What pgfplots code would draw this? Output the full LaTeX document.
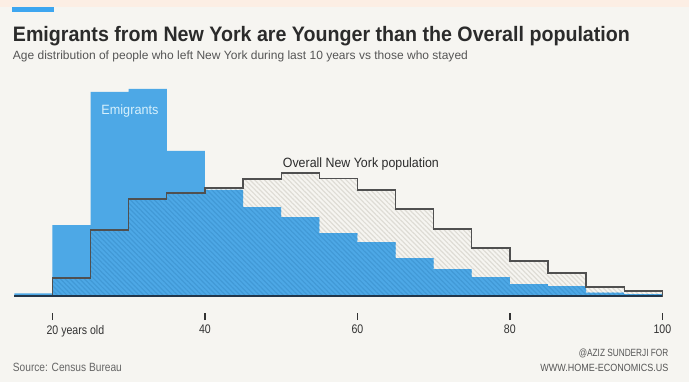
\documentclass[border=0pt]{standalone}
\usepackage{pgfplots}
\pgfplotsset{compat=1.18}
\usepackage{pgfplotstable}
\usepackage{graphicx}
\usepackage{fontspec}
\setmainfont{Liberation Sans}[FakeStretch=0.85]
\usetikzlibrary{patterns.meta}
\definecolor{bg}{HTML}{F6F5F1}
\definecolor{peach}{HTML}{FCEEE4}
\definecolor{accent}{HTML}{3EA6F0}
\definecolor{emblue}{HTML}{4DA8E6}
\definecolor{hatchbg}{HTML}{DEDCD5}
\definecolor{hatchblue}{HTML}{4199D6}
\definecolor{titlec}{HTML}{2B2B2B}
\definecolor{subc}{HTML}{555555}
\definecolor{srcc}{HTML}{666666}
\definecolor{linec}{HTML}{505050}
\definecolor{basec}{HTML}{22364A}
\definecolor{tickc}{HTML}{333333}
\definecolor{emtext}{HTML}{D6F0FC}

% x = left edge of 5-year bin, e = emigrants, o = overall population, m = overlap of both
\pgfplotstableread{
x e o m
15 2.7 0.8 0.8
20 71 18 18
25 204 66 66
30 207 97 97
35 145 103 103
40 106 108 106
45 89 117 89
50 79 123 79
55 63 117.5 63
60 54 106 54
65 38 87 38
70 27 67 27
75 19 48 19
80 12 35 12
85 10 23 10
90 3.5 9 3.5
95 2 5 2
100 2 5 2
}\histdata

\begin{document}
\begin{tikzpicture}[x=1bp,y=1bp]
\fill[bg] (0,0) rectangle (689,382);
\fill[peach] (0,375) rectangle (689,382);
\fill[accent] (12,370) rectangle (54,374.5);
\node[anchor=base west, inner sep=0, text=titlec] at (12.7,340.3)
  {\resizebox{617bp}{\height}{\fontsize{21}{24}\selectfont\bfseries Emigrants from New York are Younger than the Overall population}};
\node[anchor=base west, inner sep=0, text=subc] at (12.7,322.7)
  {\resizebox{455bp}{\height}{\fontsize{12}{14}\selectfont Age distribution of people who left New York during last 10 years vs those who stayed}};
\node[anchor=base west, inner sep=0, text=srcc] at (12.7,10.3)
  {\resizebox{109bp}{\height}{\fontsize{12}{14}\selectfont Source: Census Bureau}};
\node[anchor=base east, inner sep=0, text=subc] at (668.5,25.3)
  {\resizebox{89.5bp}{\height}{\fontsize{10.5}{12}\selectfont @AZIZ SUNDERJI FOR}};
\node[anchor=base east, inner sep=0, text=subc] at (668.5,10.3)
  {\resizebox{128bp}{\height}{\fontsize{10.5}{12}\selectfont WWW.HOME-ECONOMICS.US}};

\begin{axis}[
  at={(18.8,69)}, anchor=south west,
  scale only axis, width=648bp, height=237bp,
  xmin=15, xmax=100, ymin=-17, ymax=220,
  axis line style={draw=none},
  ytick=\empty,
  xtick={20,40,60,80,100},
  xticklabels={20\rlap{ years old},40,60,80,100},
  xtick pos=lower, tick align=outside,
  major tick length=7bp,
  xtick style={draw=tickc, line width=1.4bp},
  xticklabel style={font=\fontsize{12.5}{14}\selectfont, text=tickc, yshift=-1.5bp},
  /pgf/number format/assume math mode=true,
  clip=false,
]
\addplot[draw=none, const plot,
  pattern={Lines[angle=-45,distance=3.4bp,line width=1.2bp]}, pattern color=hatchbg]
  table[x=x,y=o]{\histdata} \closedcycle;
\addplot[fill=emblue, draw=none, const plot] table[x=x,y=e]{\histdata} \closedcycle;
\addplot[draw=none, const plot,
  pattern={Lines[angle=-45,distance=3.4bp,line width=1.2bp]}, pattern color=hatchblue]
  table[x=x,y=m]{\histdata} \closedcycle;
\addplot[draw=linec, line width=1.3bp, const plot] table[x=x,y=o]{\histdata} \closedcycle;
\draw[basec, line width=2bp] (axis cs:15,0) -- (axis cs:100,0);
\node[anchor=base west, inner sep=0, text=emtext] at (axis cs:26.4,181.7)
  {\resizebox{57bp}{\height}{\fontsize{13.5}{15}\selectfont Emigrants}};
\node[anchor=base west, inner sep=0, text=titlec] at (axis cs:50.2,128.7)
  {\resizebox{156bp}{\height}{\fontsize{13.5}{15}\selectfont Overall New York population}};
\end{axis}
\end{tikzpicture}
\end{document}
